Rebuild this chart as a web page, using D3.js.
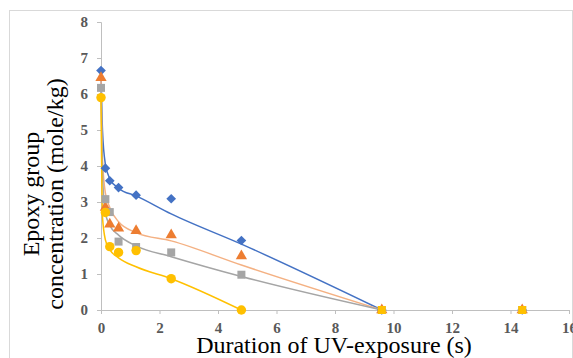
<!DOCTYPE html>
<html>
<head>
<meta charset="utf-8">
<script src="https://cdn.jsdelivr.net/npm/d3@7"></script>
<style>
  body { margin: 0; background: #fff; }
  svg { display: block; }
</style>
</head>
<body>
<figure id="epoxy" style="margin:0"></figure>
<script>
// measured points (duration in s, concentration in mole/kg)
const times = [0, 0.15, 0.3, 0.6, 1.2, 2.4, 4.8, 9.6, 14.4];
const blueVals   = [6.65, 3.94, 3.59, 3.40, 3.19, 3.09, 1.93, 0, 0];
const orangeVals = [6.45, 2.85, 2.38, 2.27, 2.20, 2.08, 1.50, 0, 0];
const greyVals   = [6.17, 3.08, 2.72, 1.90, 1.75, 1.60, 0.98, 0, 0];
const yellowVals = [5.90, 2.71, 1.76, 1.60, 1.65, 0.87, 0];
const tailTimes  = [9.6, 14.4];
const tailVals   = [0, 0];

// fitted curves
const fitTimes = [0, 0.05, 0.15, 0.3, 0.6, 1.2, 2.4, 4.8, 9.6];
const blueFit   = [6.65, 5.0, 4.05, 3.65, 3.38, 3.17, 2.67, 1.83, 0];
const orangeFit = [6.45, 4.2, 3.25, 2.85, 2.45, 2.15, 1.92, 1.25, 0];
const greyFit   = [6.17, 3.8, 2.70, 2.35, 2.08, 1.78, 1.48, 0.93, 0];
const yellowFit = [5.90, 2.6, 1.95, 1.68, 1.45, 1.20, 0.87, 0];

const xTicks = [0, 2, 4, 6, 8, 10, 12, 14, 16];
const yTicks = [0, 1, 2, 3, 4, 5, 6, 7, 8];

const width = 573, height = 358;
const margin = {top: 22, right: 4, bottom: 48, left: 101};

const svg = d3.select("figure#epoxy")
  .append("svg")
  .attr("width", width)
  .attr("height", height);

// chart frame
svg.append("rect")
  .attr("x", 9.5).attr("y", 10.5)
  .attr("width", 563).attr("height", 360)
  .attr("fill", "none")
  .attr("stroke", "#d9d9d9");

const x = d3.scaleLinear().domain([0, 16]).range([margin.left, width - margin.right]);
const y = d3.scaleLinear().domain([0, 8]).range([height - margin.bottom, margin.top]);

const serif = "'Liberation Serif', 'Times New Roman', serif";

function styleAxis(g) {
  g.attr("font-family", serif).attr("font-size", 15).attr("font-weight", "bold");
  g.select(".domain").attr("stroke", "#bfbfbf");
  g.selectAll(".tick line").attr("stroke", "#bfbfbf");
  g.selectAll(".tick text").attr("fill", "#595959");
}

// X axis
svg.append("g")
  .attr("transform", `translate(0, ${y(0)})`)
  .call(d3.axisBottom(x).tickValues(xTicks).tickSize(4).tickPadding(8).tickFormat(d3.format("d")))
  .call(styleAxis);

// Y axis
svg.append("g")
  .attr("transform", `translate(${x(0)}, 0)`)
  .call(d3.axisLeft(y).tickValues(yTicks).tickSize(4).tickPadding(9).tickFormat(d3.format("d")))
  .call(styleAxis);

// axis titles
svg.append("text")
  .attr("x", 334).attr("y", 353)
  .attr("text-anchor", "middle")
  .style("font-family", serif).style("font-size", "24px")
  .text("Duration of UV-exposure (s)");

const yTitle = svg.append("text")
  .attr("transform", "translate(0, 194) rotate(-90)")
  .attr("text-anchor", "middle")
  .style("font-family", serif).style("font-size", "24px");
yTitle.append("tspan").attr("x", 0).attr("y", 39).text("Epoxy group");
yTitle.append("tspan").attr("x", 0).attr("y", 63).text("concentration (mole/kg)");

const series = [
  {vals: blueVals,   fit: blueFit,   color: "#4472C4", line: "#4472C4", sym: d3.symbolDiamond2, size: 60},
  {vals: orangeVals, fit: orangeFit, color: "#ED7D31", line: "#F4B183", sym: d3.symbolTriangle, size: 55},
  {vals: greyVals,   fit: greyFit,   color: "#A5A5A5", line: "#A5A5A5", sym: d3.symbolSquare,   size: 64},
  {vals: yellowVals, fit: yellowFit, color: "#FFC000", line: "#FFC000", sym: d3.symbolCircle,   size: 70}
];

const line = d3.line()
  .x(d => x(d[0]))
  .y(d => y(d[1]))
  .curve(d3.curveMonotoneX);

series.forEach(s => {
  svg.append("path")
    .datum(s.fit.map((v, i) => [fitTimes[i], v]))
    .attr("d", line)
    .attr("fill", "none")
    .attr("stroke", s.line)
    .attr("stroke-width", 1.5);
});

series.forEach(s => {
  svg.append("g")
    .selectAll("path")
    .data(s.vals.map((v, i) => [times[i], v]))
    .join("path")
      .attr("transform", d => `translate(${x(d[0])}, ${y(d[1])})`)
      .attr("d", d3.symbol().type(s.sym).size(s.size))
      .attr("fill", s.color);
});

// yellow square markers at the tail
svg.append("g")
  .selectAll("path")
  .data(tailTimes.map((t, i) => [t, tailVals[i]]))
  .join("path")
    .attr("transform", d => `translate(${x(d[0])}, ${y(d[1])})`)
    .attr("d", d3.symbol().type(d3.symbolSquare).size(64))
    .attr("fill", "#FFC000");
</script>
</body>
</html>
